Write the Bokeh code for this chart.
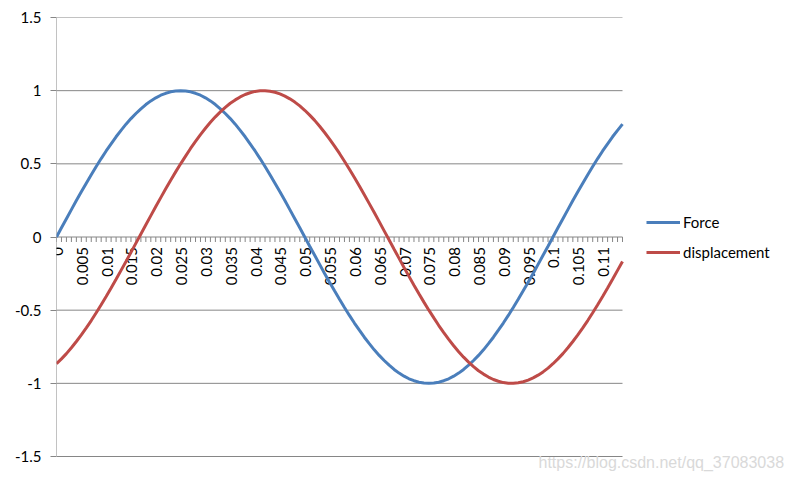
import math
from bokeh.plotting import figure
from bokeh.models import Range1d, Legend, LegendItem, Label, FixedTicker
from bokeh.embed import file_html
from bokeh.resources import INLINE
from bokeh.core.properties import value

# ---- data ----
t = [0.000, 0.001, 0.002, 0.003, 0.004, 0.005, 0.006, 0.007, 0.008, 0.009,
     0.010, 0.011, 0.012, 0.013, 0.014, 0.015, 0.016, 0.017, 0.018, 0.019,
     0.020, 0.021, 0.022, 0.023, 0.024, 0.025, 0.026, 0.027, 0.028, 0.029,
     0.030, 0.031, 0.032, 0.033, 0.034, 0.035, 0.036, 0.037, 0.038, 0.039,
     0.040, 0.041, 0.042, 0.043, 0.044, 0.045, 0.046, 0.047, 0.048, 0.049,
     0.050, 0.051, 0.052, 0.053, 0.054, 0.055, 0.056, 0.057, 0.058, 0.059,
     0.060, 0.061, 0.062, 0.063, 0.064, 0.065, 0.066, 0.067, 0.068, 0.069,
     0.070, 0.071, 0.072, 0.073, 0.074, 0.075, 0.076, 0.077, 0.078, 0.079,
     0.080, 0.081, 0.082, 0.083, 0.084, 0.085, 0.086, 0.087, 0.088, 0.089,
     0.090, 0.091, 0.092, 0.093, 0.094, 0.095, 0.096, 0.097, 0.098, 0.099,
     0.100, 0.101, 0.102, 0.103, 0.104, 0.105, 0.106, 0.107, 0.108, 0.109,
     0.110, 0.111, 0.112, 0.113, 0.114]

force = [0.000, 0.063, 0.125, 0.187, 0.249, 0.309, 0.368, 0.426, 0.482, 0.536,
         0.588, 0.637, 0.685, 0.729, 0.771, 0.809, 0.844, 0.876, 0.905, 0.930,
         0.951, 0.969, 0.982, 0.992, 0.998, 1.000, 0.998, 0.992, 0.982, 0.969,
         0.951, 0.930, 0.905, 0.876, 0.844, 0.809, 0.771, 0.729, 0.685, 0.637,
         0.588, 0.536, 0.482, 0.426, 0.368, 0.309, 0.249, 0.187, 0.125, 0.063,
         0.000, -0.063, -0.125, -0.187, -0.249, -0.309, -0.368, -0.426, -0.482, -0.536,
         -0.588, -0.637, -0.685, -0.729, -0.771, -0.809, -0.844, -0.876, -0.905, -0.930,
         -0.951, -0.969, -0.982, -0.992, -0.998, -1.000, -0.998, -0.992, -0.982, -0.969,
         -0.951, -0.930, -0.905, -0.876, -0.844, -0.809, -0.771, -0.729, -0.685, -0.637,
         -0.588, -0.536, -0.482, -0.426, -0.368, -0.309, -0.249, -0.187, -0.125, -0.063,
         0.000, 0.063, 0.125, 0.187, 0.249, 0.309, 0.368, 0.426, 0.482, 0.536,
         0.588, 0.637, 0.685, 0.729, 0.771]

displacement = [-0.866, -0.833, -0.797, -0.757, -0.714, -0.669, -0.621, -0.571, -0.518, -0.463,
                -0.407, -0.349, -0.289, -0.228, -0.167, -0.105, -0.042, 0.021, 0.084, 0.146,
                0.208, 0.269, 0.329, 0.388, 0.445, 0.500, 0.553, 0.605, 0.653, 0.700,
                0.743, 0.784, 0.821, 0.855, 0.886, 0.914, 0.937, 0.957, 0.974, 0.986,
                0.995, 0.999, 1.000, 0.996, 0.989, 0.978, 0.963, 0.944, 0.922, 0.896,
                0.866, 0.833, 0.797, 0.757, 0.714, 0.669, 0.621, 0.571, 0.518, 0.463,
                0.407, 0.349, 0.289, 0.228, 0.167, 0.105, 0.042, -0.021, -0.084, -0.146,
                -0.208, -0.269, -0.329, -0.388, -0.445, -0.500, -0.553, -0.605, -0.653, -0.700,
                -0.743, -0.784, -0.821, -0.855, -0.886, -0.914, -0.937, -0.957, -0.974, -0.986,
                -0.995, -0.999, -1.000, -0.996, -0.989, -0.978, -0.963, -0.944, -0.922, -0.896,
                -0.866, -0.833, -0.797, -0.757, -0.714, -0.669, -0.621, -0.571, -0.518, -0.463,
                -0.407, -0.349, -0.289, -0.228, -0.167]

x_label_pos = [0.000, 0.005, 0.010, 0.015, 0.020, 0.025, 0.030, 0.035, 0.040, 0.045,
               0.050, 0.055, 0.060, 0.065, 0.070, 0.075, 0.080, 0.085, 0.090, 0.095,
               0.100, 0.105, 0.110]
x_label_text = ["0", "0.005", "0.01", "0.015", "0.02", "0.025", "0.03", "0.035", "0.04", "0.045",
                "0.05", "0.055", "0.06", "0.065", "0.07", "0.075", "0.08", "0.085", "0.09", "0.095",
                "0.1", "0.105", "0.11"]

y_ticks = [-1.5, -1.0, -0.5, 0.0, 0.5, 1.0, 1.5]
y_tick_labels = ["-1.5", "-1", "-0.5", "0", "0.5", "1", "1.5"]

series_names = ["Force", "displacement"]
watermark = "https://blog.csdn.net/qq_37083038"

# ---- layout / styles ----
FONT = "Lato"
GRID = "#868686"
BLUE = "#4A7EBB"
RED = "#BE4B48"

W, H = 790, 478
LEFT, TOP = 56, 17          # plot-area left / top edge in pixels
PLOT_W, PLOT_H = 566, 439   # plot-area size in pixels (axis span)
FRAME_W, FRAME_H = W - LEFT, H - TOP

x_span = t[-1] - t[0]
y_span = y_ticks[-1] - y_ticks[0]
x_end = t[0] + x_span * FRAME_W / PLOT_W
y_start = y_ticks[-1] - y_span * FRAME_H / PLOT_H

p = figure(width=W, height=H, output_backend="svg", toolbar_location=None,
           x_range=Range1d(t[0], x_end), y_range=Range1d(y_start, y_ticks[-1]),
           x_axis_location=None,
           min_border_left=LEFT, min_border_right=0, min_border_top=TOP, min_border_bottom=0)
p.outline_line_color = None
p.background_fill_color = "white"
p.border_fill_color = "white"
p.xgrid.visible = False
p.ygrid.visible = False

ax = p.yaxis[0]
ax.ticker = FixedTicker(ticks=y_ticks)
ax.major_label_overrides = {k: v for k, v in zip(y_ticks, y_tick_labels)}
ax.axis_line_color = None
ax.major_tick_line_color = GRID
ax.major_tick_out = 6
ax.major_tick_in = 0
ax.minor_tick_line_color = None
ax.major_label_standoff = 9
ax.major_label_text_font = FONT
ax.major_label_text_font_size = "15px"
ax.major_label_text_color = "black"

# horizontal gridlines over the plot area only
p.segment(x0=[t[0]] * len(y_ticks), y0=y_ticks, x1=[t[-1]] * len(y_ticks), y1=y_ticks,
          line_color=GRID, line_width=1)
# vertical axis line
p.segment(x0=[t[0]], y0=[y_ticks[0]], x1=[t[0]], y1=[y_ticks[-1]], line_color=GRID, line_width=1)

# category tick marks along the zero line
tick_len = 5 * y_span / PLOT_H
p.segment(x0=t, y0=[0] * len(t), x1=t, y1=[-tick_len] * len(t), line_color=GRID, line_width=1)

# category labels, rotated
p.text(x=x_label_pos, y=[0] * len(x_label_pos), text=x_label_text, angle=math.pi / 2,
       text_align="right", text_baseline="middle", x_offset=1, y_offset=10,
       text_font=value(FONT), text_font_size="15px", text_color="black")

r1 = p.line(t, force, line_color=BLUE, line_width=3)
r2 = p.line(t, displacement, line_color=RED, line_width=3)

legend = Legend(items=[LegendItem(label=value(series_names[0]), renderers=[r1]),
                       LegendItem(label=value(series_names[1]), renderers=[r2])],
                location=(646 - LEFT, H - 262), orientation="vertical",
                glyph_width=34, glyph_height=20, label_height=20, spacing=10,
                padding=0, margin=0, label_standoff=3,
                border_line_color=None, background_fill_alpha=0,
                label_text_font=FONT, label_text_font_size="15px", label_text_color="black")
p.add_layout(legend, "center")

wm = Label(x=538 - LEFT, y=H - 453, x_units="screen", y_units="screen",
           text=watermark, text_baseline="top",
           text_font="Liberation Sans", text_font_size="16px", text_color="#d9d9d9")
p.add_layout(wm)

open("out.html", "w").write(file_html(p, INLINE))
